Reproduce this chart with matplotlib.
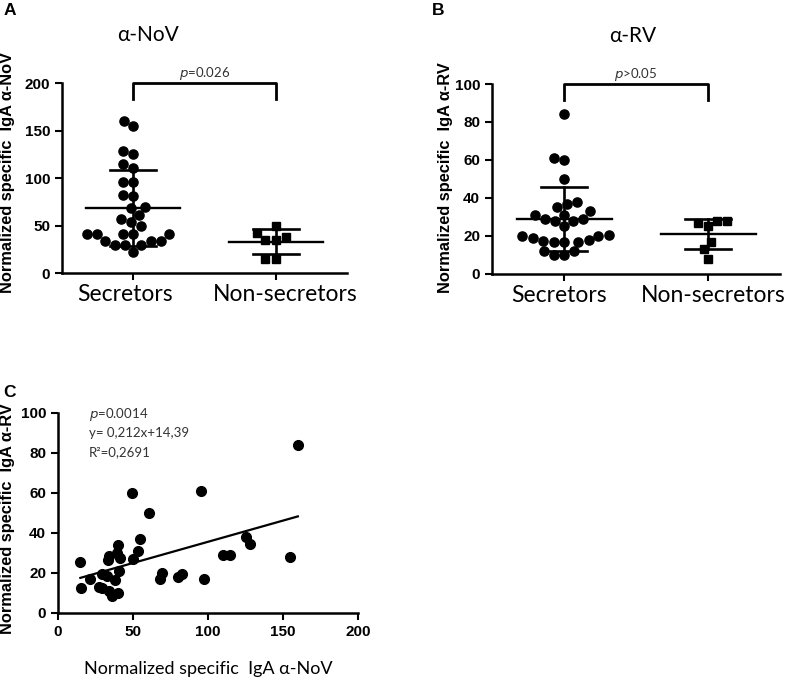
"""
Anti-norovirus / anti-rotavirus IgA by secretor status, plus correlation.
"""

import numpy as np
import matplotlib.pyplot as plt
from matplotlib.transforms import ScaledTranslation

# ---- data ----
categories = ["Secretors", "Non-secretors"]

nov_secretors = [160, 155, 128, 125, 115, 111, 96, 96, 82, 81, 70, 68, 61, 57,
                 54, 49, 41, 41, 41, 41, 41, 34, 34, 34, 29, 29, 29, 22]
nov_nonsecretors = [50, 42, 38, 35, 35, 15, 15]
nov_mean = [68, 33]
nov_sd = [40, 13]

rv_secretors = [84, 61, 60, 50, 38, 37, 35, 33, 31, 31, 29, 29, 28, 28, 25,
                20, 20.5, 20, 19, 18, 17.5, 17, 17, 17, 12, 12, 10, 10]
rv_nonsecretors = [28, 27, 28, 25, 17, 13, 8]
rv_mean = [29, 21]
rv_sd = [17, 8]

corr_nov = [14.9, 15.6, 21.6, 27.4, 29.0, 29.6, 33.4, 33.9, 32.7, 34.0, 36.3,
            37.9, 39.4, 40.0, 41.6, 40.8, 40.0, 50.0, 49.0, 53.5, 54.6, 60.8,
            68.0, 69.5, 80.2, 82.4, 95.3, 97.3, 109.8, 114.7, 125.2, 128.0,
            154.8, 159.9]
corr_rv = [25.3, 12.5, 17.0, 12.8, 12.5, 19.7, 26.7, 28.3, 18.3, 10.8, 8.7,
           16.7, 30.0, 33.8, 27.5, 20.8, 10.0, 27.0, 60.0, 30.8, 37.0, 50.0,
           17.0, 20.0, 18.0, 19.7, 61.2, 17.2, 28.8, 29.2, 38.0, 34.5,
           28.0, 83.8]
fit_slope = 0.212
fit_intercept = 14.39

TICK_FONT = dict(family="Liberation Sans", weight="bold", size=11)
LABEL_FONT = dict(family=["Liberation Sans", "DejaVu Sans"], weight="bold", size=11.8)
CAT_FONT = dict(family=["Lato", "DejaVu Sans"], size=16.5)
NOTE_FONT = dict(family=["Lato", "DejaVu Sans"], size=9.5, color="#333333")


def swarm_offsets(ax, values, x0, diam_px):
    """Beeswarm x positions (data units) so markers do not overlap."""
    ax.figure.canvas.draw()
    trans = ax.transData
    ys = np.array([trans.transform((x0, v))[1] for v in values])
    order = np.argsort(ys)
    placed = []  # (xpix, ypix)
    xpix = np.zeros(len(values))
    for i in order:
        y = ys[i]
        cands = [0.0]
        for px, py in placed:
            dy = abs(py - y)
            if dy < diam_px:
                dx = np.sqrt(diam_px ** 2 - dy ** 2)
                cands += [px + dx, px - dx]
        cands.sort(key=lambda c: (abs(c), c))
        for c in cands:
            ok = all((c - px) ** 2 + (y - py) ** 2 >= diam_px ** 2 - 1e-6
                     for px, py in placed)
            if ok:
                xpix[i] = c
                placed.append((c, y))
                break
    base = trans.transform((x0, 0))[0]
    inv = trans.inverted()
    return np.array([inv.transform((base + dx, 0))[0] for dx in xpix])


def column_panel(ax, groups, means, sds, ymax, step, ylabel, title, title_x,
                 ptext, label_shift):
    ax.set_xlim(0.5, 2.5)
    ax.set_ylim(0, ymax)
    for side in ("top", "right"):
        ax.spines[side].set_visible(False)
    for side in ("left", "bottom"):
        ax.spines[side].set_linewidth(1.8)
    ax.tick_params(direction="out", length=5, width=1.5)
    ax.set_yticks(np.arange(0, ymax + 1, step))
    ax.set_yticklabels([str(int(v)) for v in np.arange(0, ymax + 1, step)],
                       **TICK_FONT)
    ax.set_xticks([1, 2])
    ax.set_xticklabels(categories, **CAT_FONT)
    ax.tick_params(axis="x", pad=3)
    # nudge category labels a little, as in the original layout
    for lab, dx in zip(ax.get_xticklabels(), label_shift):
        lab.set_transform(lab.get_transform()
                          + ScaledTranslation(dx / 100, 0, ax.figure.dpi_scale_trans))

    markers = ["o", "s"]
    for k, vals in enumerate(groups):
        xs = swarm_offsets(ax, vals, k + 1, 10.5)
        ax.plot(xs, vals, linestyle="none", marker=markers[k],
                markersize=6.6 if k == 0 else 6.0, color="black",
                clip_on=False, zorder=3)
        m, s = means[k], sds[k]
        x = k + 1
        ax.plot([x - 0.33, x + 0.33], [m, m], color="black", lw=1.7, zorder=4)
        ax.plot([x - 0.16, x + 0.16], [m + s, m + s], color="black", lw=1.9, zorder=4)
        ax.plot([x - 0.16, x + 0.16], [m - s, m - s], color="black", lw=1.9, zorder=4)
        ax.plot([x, x], [m - s, m + s], color="black", lw=1.9, zorder=4)

    # significance bracket
    leg = ymax * 0.085
    ax.plot([1, 1, 2, 2], [ymax - leg, ymax, ymax, ymax - leg], color="black",
            lw=2.0, clip_on=False)
    p, rest = ptext
    ax.text(1.5, ymax * 1.005, f"$\\it{{{p}}}$" + rest, ha="center", va="bottom",
            **NOTE_FONT)

    ax.set_ylabel(ylabel, **LABEL_FONT)
    ax.set_title(title, family=["Lato", "DejaVu Sans"], size=15, pad=30, x=title_x)


fig = plt.figure(figsize=(7.87, 6.78), dpi=100)

ax_a = fig.add_axes([0.0788, 0.5973, 0.3621, 0.2802])
ax_b = fig.add_axes([0.6252, 0.5959, 0.3660, 0.2802])
ax_c = fig.add_axes([0.0737, 0.0959, 0.3812, 0.2950])

column_panel(ax_a, [nov_secretors, nov_nonsecretors], nov_mean, nov_sd, 200, 50,
             "Normalized specific  IgA \u03b1-NoV", "\u03b1-NoV", 0.30,
             ("p", "=0.026"), (-8, 10))
column_panel(ax_b, [rv_secretors, rv_nonsecretors], rv_mean, rv_sd, 100, 20,
             "Normalized specific  IgA \u03b1-RV", "\u03b1-RV", 0.49,
             ("p", ">0.05"), (-5, 5))
ax_a.yaxis.set_label_coords(-0.166, 0.53)
ax_b.yaxis.set_label_coords(-0.135, 0.505)

# panel C: correlation
ax_c.set_xlim(0, 200)
ax_c.set_ylim(0, 100)
for side in ("top", "right"):
    ax_c.spines[side].set_visible(False)
for side in ("left", "bottom"):
    ax_c.spines[side].set_linewidth(1.8)
ax_c.tick_params(direction="out", length=5, width=1.5)
ax_c.set_xticks(np.arange(0, 201, 50))
ax_c.set_xticklabels([str(v) for v in range(0, 201, 50)], **TICK_FONT)
ax_c.set_yticks(np.arange(0, 101, 20))
ax_c.set_yticklabels([str(v) for v in range(0, 101, 20)], **TICK_FONT)
ax_c.plot(corr_nov, corr_rv, linestyle="none", marker="o", markersize=7,
          color="black", clip_on=False, zorder=3)
xfit = np.array([min(corr_nov), max(corr_nov)])
ax_c.plot(xfit, fit_slope * xfit + fit_intercept, color="black", lw=1.6)
ax_c.text(20.7, 99, "$\\it{p}$=0.0014", va="center", **NOTE_FONT)
ax_c.text(20.7, 90, "y= 0,212x+14,39", va="center", **NOTE_FONT)
ax_c.text(20.7, 80.5, "R\u00b2=0,2691", va="center", **NOTE_FONT)
ax_c.set_ylabel("Normalized specific  IgA \u03b1-RV", **LABEL_FONT)
ax_c.yaxis.set_label_coords(-0.143, 0.47)
ax_c.set_xlabel("Normalized specific  IgA \u03b1-NoV",
                family=["Lato", "DejaVu Sans"], size=13, labelpad=16)

# panel letters
for letter, (x, y) in {"A": (0.004, 0.995), "B": (0.549, 0.995),
                       "C": (0.004, 0.432)}.items():
    fig.text(x, y, letter, family="Liberation Sans", weight="bold", size=12.5,
             va="top")

fig.savefig("out.png", dpi=100)
